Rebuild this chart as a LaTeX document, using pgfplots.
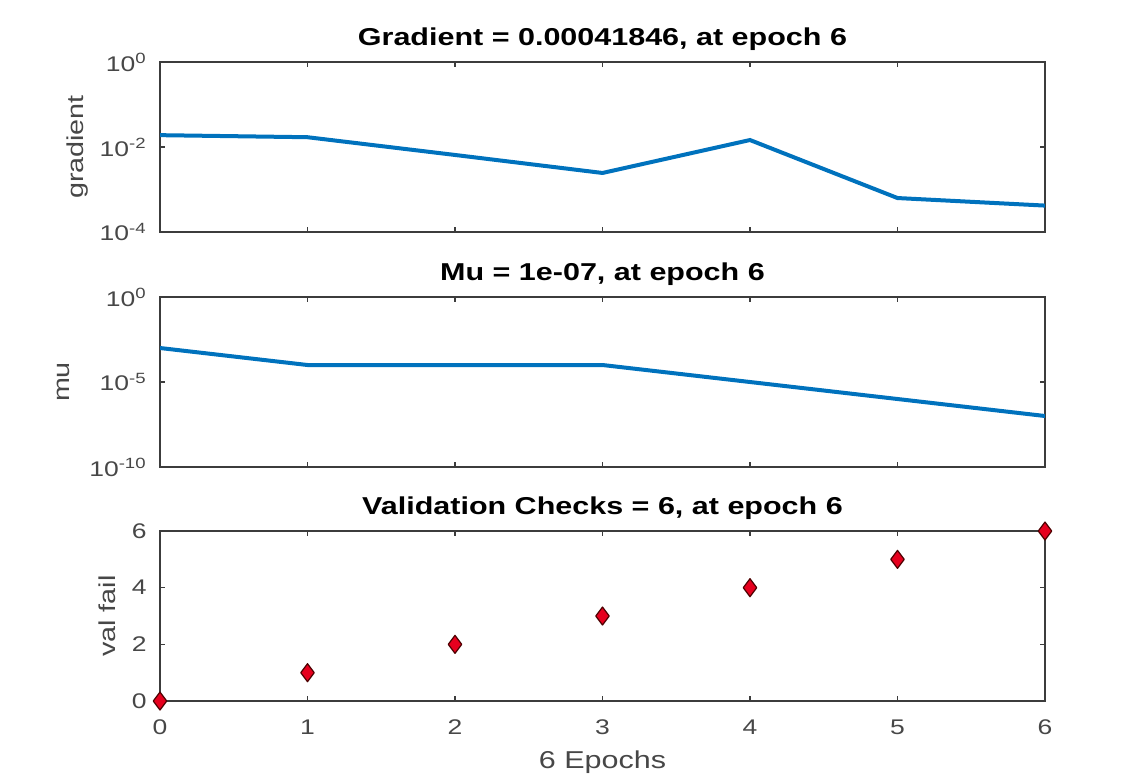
\documentclass[border=0pt]{standalone}
\usepackage{fontspec}
\setmainfont{Liberation Sans}[FakeStretch=1.25]
\usepackage{pgfplots}
\pgfplotsset{compat=1.18}

\definecolor{mlblue}{RGB}{0,114,189}
\definecolor{mlred}{RGB}{230,0,30}
\definecolor{axgray}{RGB}{60,60,60}

\pgfplotsset{
  trainplot/.style={
    scale only axis,
    width=442.5pt, height=85pt,
    xmin=0, xmax=6,
    xtick={0,1,2,3,4,5,6},
    tick align=inside,
    tick pos=both,
    major tick length=2.5pt,
    axis line style={axgray, line width=0.8pt},
    every tick/.style={axgray, line width=0.6pt},
    tick label style={font=\fontsize{10.6}{12}\selectfont, text=black!72},
    yticklabel style={inner sep=0pt, anchor=east, xshift=-6.5pt},
    xticklabel style={inner sep=0pt, anchor=base, yshift=-16.5pt},
    every axis title shift=0pt,
    title style={font=\fontsize{12.2}{14}\selectfont\bfseries, at={(0.5,1)}, anchor=base, yshift=8.5pt},
    ylabel style={font=\fontsize{11.5}{13}\selectfont, text=black!72, anchor=base},
    xlabel style={font=\fontsize{12.2}{14}\selectfont, text=black!72, at={(0.5,0)}, anchor=base, yshift=-33.5pt},
    log basis y=10,
    minor tick num=0,
  },
}

\begin{document}
\begin{tikzpicture}
\useasboundingbox (0,0) rectangle (571pt,-389pt);

% gradient
\begin{axis}[trainplot,
  at={(80pt,-116pt)}, anchor=south west,
  ymode=log, ymin=1e-4, ymax=1,
  ytick={1e-4,1e-2,1},
  yticklabels={10\textsuperscript{-4},10\textsuperscript{-2},10\textsuperscript{0}},
  xticklabels={},
  title={Gradient = 0.00041846, at epoch 6},
  ylabel={gradient},
  ylabel style={at={(axis description cs:-0.087,0.5)}},
]
\addplot[mlblue, line width=2pt] coordinates {
  (0, 0.019) (1, 0.017) (2, 0.0065) (3, 0.00245) (4, 0.0146) (5, 0.00063) (6, 0.00041846)
};
\end{axis}

% mu
\begin{axis}[trainplot,
  at={(80pt,-233.5pt)}, anchor=south west,
  ymode=log, ymin=1e-10, ymax=1,
  ytick={1e-10,1e-5,1},
  yticklabels={10\textsuperscript{-10},10\textsuperscript{-5},10\textsuperscript{0}},
  xticklabels={},
  title={Mu = 1e-07, at epoch 6},
  ylabel={mu},
  ylabel style={at={(axis description cs:-0.1017,0.5)}},
]
\addplot[mlblue, line width=2pt] coordinates {
  (0, 1e-3) (1, 1e-4) (2, 1e-4) (3, 1e-4) (4, 1e-5) (5, 1e-6) (6, 1e-7)
};
\end{axis}

% validation checks
\begin{axis}[trainplot,
  at={(80pt,-350.5pt)}, anchor=south west,
  ymin=0, ymax=6,
  ytick={0,2,4,6},
  yticklabels={0,2,4,6},
  xticklabels={0,1,2,3,4,5,6},
  title={Validation Checks = 6, at epoch 6},
  ylabel={val fail},
  ylabel style={at={(axis description cs:-0.0508,0.5)}},
  xlabel={6 Epochs},
  clip=false,
]
\addplot[only marks, mark=diamond*, mark size=4.5pt,
  mark options={fill=mlred, draw=black!70!red, line width=0.6pt, line join=round}] coordinates {
  (0,0) (1,1) (2,2) (3,3) (4,4) (5,5) (6,6)
};
\end{axis}
\end{tikzpicture}
\end{document}
